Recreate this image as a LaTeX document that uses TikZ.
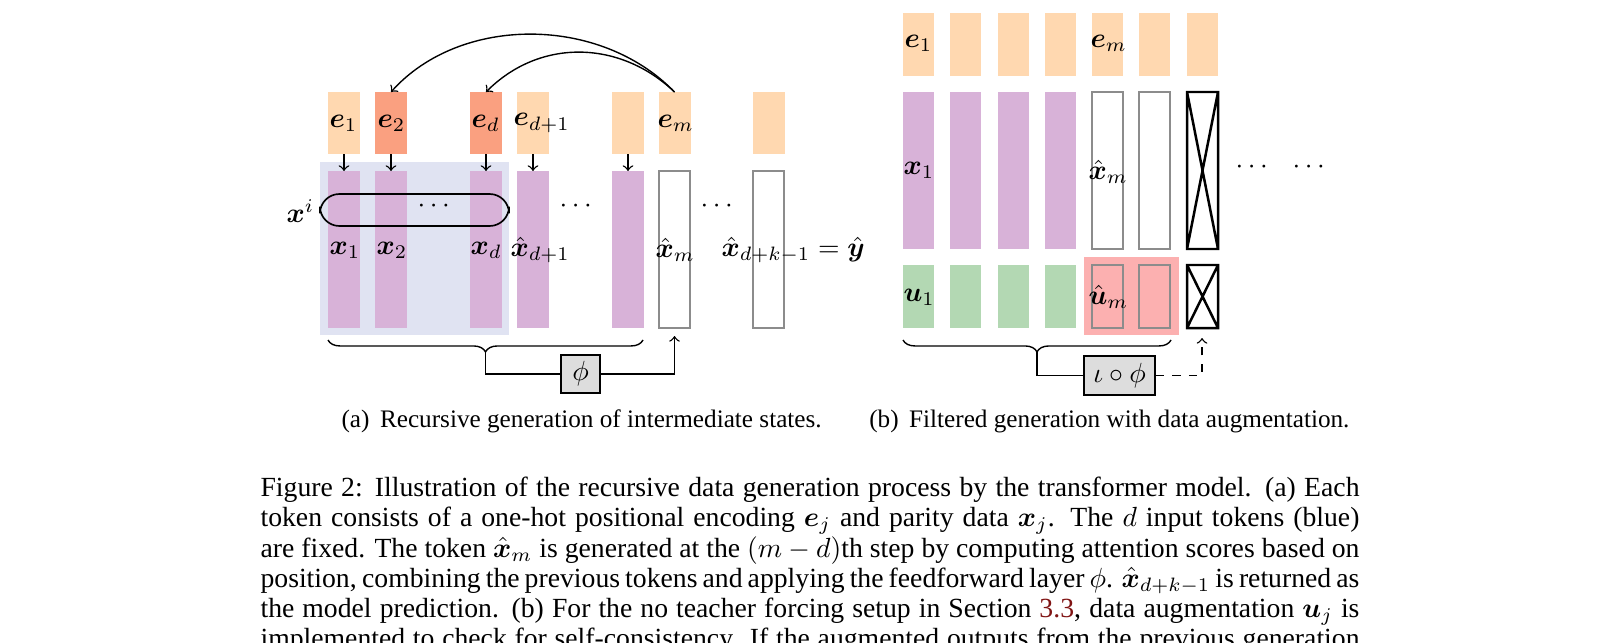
\documentclass[tikz,border=0pt]{standalone}
\usepackage{amsmath,bm}
\usepackage{fontspec}
\setmainfont{Liberation Serif}
\usetikzlibrary{decorations.pathreplacing}
\definecolor{peach}{RGB}{255,216,176}
\definecolor{salmon}{RGB}{250,160,128}
\definecolor{purp}{RGB}{216,178,216}
\definecolor{bluebg}{RGB}{224,227,242}
\definecolor{grn}{RGB}{179,216,179}
\definecolor{pinkbg}{RGB}{252,176,176}
\definecolor{boxg}{RGB}{221,221,221}
\definecolor{refred}{RGB}{128,20,20}
\tikzset{
  hol/.style={draw=black!45,line width=0.5pt},
  crs/.style={draw=black,line width=0.9pt},
  lab/.style={anchor=west,inner sep=0pt,font=\fontsize{10}{12}\selectfont},
  ar/.style={->,>=to,line width=0.5pt},
  capl/.style={anchor=base west,inner sep=0pt,font=\fontsize{10}{11}\selectfont},
  subc/.style={anchor=base west,inner sep=0pt,font=\fontsize{9.1}{11}\selectfont},
  fbox/.style={draw,fill=boxg,line width=0.5pt,inner sep=0pt,font=\fontsize{10}{12}\selectfont},
  brc/.style={decorate,decoration={brace,mirror,amplitude=4.3pt},line width=0.5pt}
}
\begin{document}
\begin{tikzpicture}[x=0.361pt,y=-0.361pt]
\useasboundingbox (0,0) rectangle (1618,642);
\clip (0,0) rectangle (1618,642);
% ---------- (a) ----------
\fill[bluebg] (320,162) rectangle (509,335);
\foreach \x in {328,517,612,659,753} \fill[peach] (\x,92) rectangle ++(32,62);
\fill[salmon] (375,92) rectangle ++(32,62);
\fill[salmon] (470,92) rectangle ++(32,62);
\foreach \x in {328,375,470,517,612} \fill[purp] (\x,171) rectangle ++(32,157);
\draw[hol] (659,171) rectangle ++(31,157);
\draw[hol] (753,171) rectangle ++(31,157);
\foreach \x/\n in {328/a,375/b,470/c,517/d,612/f}{
  \coordinate (t\n) at (\x+16,154); \coordinate (b\n) at (\x+16,171);
  \draw[ar] (t\n) -- (b\n);}
\coordinate (em) at (674.5,92);
\coordinate (e2) at (391,92);
\coordinate (ed) at (486,92);
\draw[ar] (em) .. controls (600,15) and (460,15) .. (e2);
\draw[ar] (em) .. controls (620,40) and (540,38) .. (ed);
\draw[rounded corners=7pt,line width=0.6pt] (320,194) rectangle (509,226);
\node[lab] at (286,211) {$\bm{x}^i$};
\node at (436,206) {$\cdots$};
\node at (578,206) {$\cdots$};
\node at (719,206) {$\cdots$};
\node[lab] at (329,123) {$\bm{e}_1$};
\node[lab] at (377,123) {$\bm{e}_2$};
\node[lab] at (471,123) {$\bm{e}_d$};
\node[lab] at (513,123) {$\bm{e}_{d+1}$};
\node[lab] at (657,123) {$\bm{e}_m$};
\node[lab] at (329,250) {$\bm{x}_1$};
\node[lab] at (376,250) {$\bm{x}_2$};
\node[lab] at (470,250) {$\bm{x}_d$};
\node[lab] at (510,250) {$\hat{\bm{x}}_{d+1}$};
\node[lab] at (655,250) {$\hat{\bm{x}}_m$};
\node[lab] at (721,250) {$\hat{\bm{x}}_{d+k-1}=\hat{\bm{y}}$};
\draw[brc] (328,340) -- (643,340);
\node[fbox,minimum width=39*0.361pt,minimum height=38*0.361pt] (phi) at (580.5,374) {$\phi$};
\coordinate (bm) at (485.5,352);
\coordinate (xm) at (674.5,336);
\draw[line width=0.5pt] (bm) |- (phi.west);
\draw[ar] (phi.east) -| (xm);
% ---------- (b) ----------
\foreach \x in {903,950,998,1045,1092,1139,1187} \fill[peach] (\x,13) rectangle ++(31,63);
\foreach \x in {903,950,998,1045} {\fill[purp] (\x,92) rectangle ++(31,157); \fill[grn] (\x,265) rectangle ++(31,63);}
\fill[pinkbg] (1084,257) rectangle (1179,335);
\foreach \x in {1092,1139} {\draw[hol] (\x,92) rectangle ++(31,157); \draw[hol] (\x,265) rectangle ++(31,63);}
\draw[crs] (1187,92) rectangle ++(31,157) (1187,92) -- ++(31,157) (1218,92) -- ++(-31,157);
\draw[crs] (1187,265) rectangle ++(31,63) (1187,265) -- ++(31,63) (1218,265) -- ++(-31,63);
\node at (1254,167) {$\cdots$};
\node at (1311,167) {$\cdots$};
\node[lab] at (904,43) {$\bm{e}_1$};
\node[lab] at (1090,43) {$\bm{e}_m$};
\node[lab] at (903,170) {$\bm{x}_1$};
\node[lab] at (1088,172) {$\hat{\bm{x}}_m$};
\node[lab] at (903,297) {$\bm{u}_1$};
\node[lab] at (1088,297) {$\hat{\bm{u}}_m$};
\draw[brc] (903,340) -- (1171,340);
\node[fbox,minimum width=71*0.361pt,minimum height=39*0.361pt] (iphi) at (1119.5,375.5) {$\iota\circ\phi$};
\coordinate (bm2) at (1037,352);
\coordinate (xc) at (1202,338);
\draw[line width=0.5pt] (bm2) |- (iphi.west);
\draw[ar,dashed] (iphi.east) -| (xc);
% captions
\node[subc] at (341,427) {(a)\, Recursive generation of intermediate states.};
\node[subc,anchor=base east] at (1350,427) {(b)\, Filtered generation with data augmentation.};
\node[capl] at (260,496) {\makebox[396.7pt][s]{Figure 2: Illustration of the recursive data generation process by the transformer model. (a) Each}};
\node[capl] at (260,526) {\makebox[396.7pt][s]{token consists of a one-hot positional encoding $\bm{e}_j$ and parity data $\bm{x}_j$. The $d$ input tokens (blue)}};
\node[capl] at (260,557) {\makebox[396.7pt][s]{are fixed. The token $\hat{\bm{x}}_m$ is generated at the $(m-d)$th step by computing attention scores based on}};
\node[capl] at (260,587) {\makebox[396.7pt][s]{position, combining the previous tokens and applying the feedforward layer $\phi$. $\hat{\bm{x}}_{d+k-1}$ is returned as}};
\node[capl] at (260,617) {\makebox[396.7pt][s]{the model prediction. (b) For the no teacher forcing setup in Section \textcolor{refred}{3.3}, data augmentation $\bm{u}_j$ is}};
\node[capl] at (260,647) {\makebox[396.7pt][s]{implemented to check for self-consistency. If the augmented outputs from the previous generation}};
\end{tikzpicture}
\end{document}
